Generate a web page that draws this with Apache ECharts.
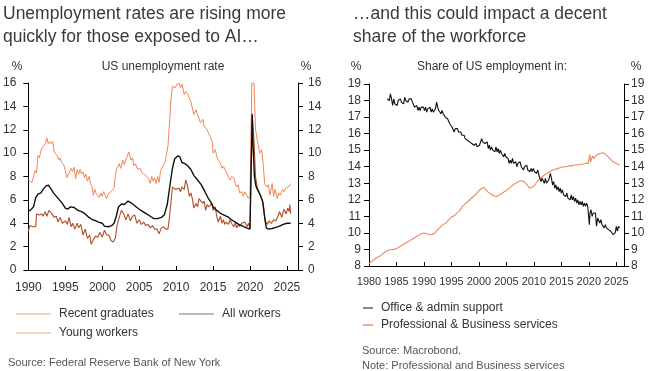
<!DOCTYPE html>
<html><head><meta charset="utf-8">
<script src="https://cdn.jsdelivr.net/npm/echarts@6/dist/echarts.min.js"></script>
<style>html,body{margin:0;padding:0;background:#fff}#c{width:648px;height:371px}</style>
</head><body><div id="c"></div>
<script>
// ---- Left chart: US unemployment rate (%), [year, value]
const allWorkers = [[1990.0,5.0],[1990.4,5.2],[1990.7,5.4],[1991.0,6.2],[1991.3,6.5],[1991.7,6.6],[1992.0,6.9],[1992.4,7.2],[1992.7,7.25],[1993.0,7.0],[1993.4,6.6],[1993.8,6.3],[1994.2,6.0],[1994.6,5.7],[1995.0,5.3],[1995.3,5.2],[1995.7,5.4],[1996.2,5.35],[1996.7,5.1],[1997.2,5.0],[1997.7,4.8],[1998.2,4.5],[1998.7,4.3],[1999.0,4.25],[1999.5,4.1],[2000.0,4.0],[2000.3,3.75],[2000.8,3.7],[2001.3,3.8],[2001.6,4.0],[2001.9,4.6],[2002.2,5.4],[2002.6,5.65],[2003.0,5.6],[2003.5,5.9],[2003.9,5.75],[2004.4,5.5],[2005.0,5.2],[2005.5,5.0],[2006.0,4.8],[2006.5,4.6],[2007.0,4.4],[2007.5,4.4],[2008.0,4.5],[2008.4,4.7],[2008.8,5.6],[2009.2,7.4],[2009.5,8.7],[2009.8,9.5],[2010.2,9.75],[2010.5,9.7],[2010.8,9.2],[2011.2,9.1],[2011.6,8.9],[2012.0,8.6],[2012.4,8.1],[2012.9,7.7],[2013.4,7.3],[2013.9,6.7],[2014.3,6.2],[2014.7,5.8],[2015.0,5.4],[2015.5,5.1],[2016.0,4.85],[2016.5,4.7],[2017.0,4.55],[2017.5,4.3],[2018.0,4.1],[2018.5,3.9],[2019.0,3.75],[2019.5,3.6],[2020.0,3.5],[2020.2,3.6],[2020.3,13.3],[2020.4,11.0],[2020.6,8.0],[2020.8,7.2],[2021.0,6.9],[2021.4,6.4],[2021.7,5.9],[2022.0,4.5],[2022.2,3.6],[2022.5,3.5],[2023.0,3.55],[2023.5,3.65],[2024.0,3.75],[2024.5,3.9],[2025.0,4.0],[2025.5,4.0]];

const youngWorkers = [[1990.0,7.7],[1990.2,7.6],[1990.5,7.5],[1990.7,8.0],[1990.9,8.5],[1991.1,8.3],[1991.3,9.8],[1991.5,9.6],[1991.7,10.2],[1991.9,10.5],[1992.1,10.4],[1992.3,10.8],[1992.5,11.3],[1992.7,10.8],[1992.9,11.0],[1993.1,10.8],[1993.3,11.0],[1993.5,10.1],[1993.7,10.2],[1993.9,9.8],[1994.1,9.4],[1994.3,9.6],[1994.5,9.2],[1994.8,9.0],[1995.0,8.5],[1995.2,7.9],[1995.5,8.3],[1995.8,8.7],[1996.0,8.4],[1996.2,8.8],[1996.4,7.8],[1996.6,8.6],[1996.8,8.2],[1997.0,8.6],[1997.2,8.2],[1997.4,8.4],[1997.6,7.9],[1997.8,8.2],[1998.0,7.6],[1998.2,8.0],[1998.4,7.4],[1998.6,7.2],[1998.8,6.4],[1999.0,6.9],[1999.2,6.5],[1999.4,6.6],[1999.6,6.2],[1999.8,6.6],[2000.0,6.3],[2000.2,6.7],[2000.4,6.4],[2000.6,6.1],[2000.8,6.5],[2001.0,6.4],[2001.2,6.7],[2001.4,6.6],[2001.6,7.0],[2001.8,8.2],[2002.0,8.7],[2002.3,9.1],[2002.5,8.7],[2002.8,9.4],[2003.0,9.0],[2003.3,9.6],[2003.6,10.1],[2003.9,9.4],[2004.1,9.6],[2004.3,8.9],[2004.5,9.1],[2004.8,8.6],[2005.1,8.7],[2005.4,8.3],[2005.6,8.4],[2005.9,8.1],[2006.1,8.2],[2006.3,7.8],[2006.5,7.4],[2006.7,8.0],[2006.9,7.6],[2007.1,7.9],[2007.3,7.4],[2007.5,8.0],[2007.7,7.5],[2007.9,8.5],[2008.1,8.5],[2008.3,9.0],[2008.5,9.2],[2008.7,9.3],[2008.9,10.6],[2009.1,12.5],[2009.3,14.5],[2009.5,15.7],[2009.7,15.8],[2009.9,15.6],[2010.1,15.9],[2010.4,16.0],[2010.6,15.6],[2010.8,15.9],[2011.1,15.0],[2011.3,15.3],[2011.6,15.0],[2011.8,15.1],[2012.0,14.4],[2012.4,13.3],[2012.7,13.7],[2012.9,13.3],[2013.1,13.4],[2013.3,12.6],[2013.6,12.9],[2013.8,12.3],[2014.0,12.4],[2014.2,12.0],[2014.4,11.7],[2014.6,11.4],[2014.9,11.0],[2015.0,10.0],[2015.3,10.3],[2015.5,9.7],[2015.7,9.4],[2016.0,9.1],[2016.2,8.7],[2016.4,8.9],[2016.6,8.6],[2016.8,8.4],[2017.1,7.9],[2017.3,7.7],[2017.5,8.0],[2017.8,7.9],[2018.0,7.4],[2018.2,7.1],[2018.4,7.3],[2018.6,6.6],[2018.9,6.7],[2019.1,6.3],[2019.3,6.7],[2019.5,6.6],[2019.8,6.1],[2020.0,6.4],[2020.15,6.5],[2020.25,16.0],[2020.55,16.0],[2020.75,12.0],[2021.0,11.1],[2021.3,10.0],[2021.6,10.3],[2021.8,8.9],[2022.0,7.4],[2022.3,7.1],[2022.5,7.3],[2022.7,6.4],[2023.0,7.4],[2023.2,6.3],[2023.4,6.9],[2023.7,6.1],[2023.9,6.6],[2024.1,6.4],[2024.4,6.9],[2024.6,6.7],[2024.8,7.0],[2025.0,7.1],[2025.2,7.1],[2025.5,7.4]];

const recentGraduates = [[1990.0,3.3],[1990.2,3.8],[1990.6,3.7],[1991.0,3.7],[1991.1,4.8],[1991.5,4.7],[1991.8,4.8],[1992.0,4.6],[1992.3,5.0],[1992.5,4.6],[1992.8,5.1],[1993.2,4.8],[1993.5,4.5],[1993.8,4.6],[1994.0,4.1],[1994.3,4.5],[1994.6,4.0],[1995.0,4.2],[1995.3,3.9],[1995.5,4.5],[1995.8,3.7],[1996.0,4.0],[1996.3,3.5],[1996.6,4.0],[1996.8,3.6],[1997.1,3.9],[1997.4,3.0],[1997.7,3.5],[1998.0,2.7],[1998.3,3.0],[1998.5,2.2],[1998.8,2.6],[1999.1,2.9],[1999.4,2.8],[1999.7,3.2],[2000.0,2.8],[2000.3,3.4],[2000.6,3.0],[2000.9,3.0],[2001.2,2.5],[2001.5,2.4],[2001.8,2.8],[2002.0,3.8],[2002.3,4.5],[2002.6,5.1],[2002.9,4.8],[2003.2,4.3],[2003.5,4.8],[2003.8,4.2],[2004.1,4.6],[2004.4,4.7],[2004.7,4.0],[2005.0,4.3],[2005.3,3.9],[2005.6,4.1],[2005.9,3.8],[2006.2,3.9],[2006.5,3.6],[2006.8,3.8],[2007.1,3.5],[2007.4,3.5],[2007.7,3.1],[2008.0,3.6],[2008.3,3.7],[2008.6,3.5],[2008.9,3.5],[2009.1,4.5],[2009.3,5.8],[2009.5,7.1],[2009.9,6.9],[2010.4,7.0],[2010.6,6.7],[2010.8,7.1],[2011.1,6.9],[2011.3,7.7],[2011.5,7.3],[2011.8,6.3],[2012.0,6.6],[2012.2,6.1],[2012.4,5.3],[2012.7,5.7],[2012.9,5.4],[2013.1,6.1],[2013.3,6.0],[2013.6,5.7],[2013.8,5.9],[2014.0,5.1],[2014.2,5.6],[2014.4,5.4],[2014.6,5.3],[2014.9,5.7],[2015.0,5.1],[2015.3,5.4],[2015.5,4.6],[2015.7,4.1],[2016.0,4.6],[2016.2,4.0],[2016.4,4.3],[2016.6,3.9],[2016.8,4.1],[2017.1,3.9],[2017.3,4.3],[2017.5,4.0],[2017.8,3.7],[2018.0,4.0],[2018.2,3.6],[2018.4,3.9],[2018.6,3.7],[2018.9,4.0],[2019.1,3.9],[2019.3,4.1],[2019.6,3.7],[2019.8,4.0],[2020.0,3.6],[2020.15,3.7],[2020.3,13.4],[2020.55,11.0],[2020.75,8.0],[2021.0,7.0],[2021.3,6.6],[2021.5,6.2],[2021.8,5.7],[2022.0,4.3],[2022.3,3.9],[2022.6,4.2],[2022.9,4.0],[2023.2,4.3],[2023.5,4.2],[2023.8,4.6],[2024.0,5.0],[2024.3,4.5],[2024.6,5.2],[2024.9,4.8],[2025.1,5.3],[2025.3,5.0],[2025.4,5.6],[2025.5,4.8]];

// ---- Right chart: share of US employment (%), [year, value]
const officeAdmin = [[1983.3,18.1],[1983.5,18.2],[1983.7,18.0],[1983.9,18.4],[1984.1,18.1],[1984.3,17.7],[1984.5,18.1],[1984.7,17.8],[1984.9,17.9],[1985.1,17.7],[1985.3,18.0],[1985.5,17.9],[1985.7,18.1],[1985.9,17.9],[1986.1,18.0],[1986.3,17.8],[1986.5,18.2],[1986.7,18.0],[1986.9,18.1],[1987.1,17.9],[1987.3,18.1],[1987.5,18.0],[1987.7,18.1],[1987.9,17.9],[1988.1,18.0],[1988.3,17.6],[1988.5,17.5],[1988.7,17.7],[1988.9,17.4],[1989.1,17.6],[1989.3,17.4],[1989.5,17.6],[1989.7,17.5],[1989.9,17.6],[1990.1,17.4],[1990.3,17.6],[1990.5,17.3],[1990.7,17.5],[1990.9,17.4],[1991.1,17.6],[1991.3,17.3],[1991.5,17.5],[1991.7,17.3],[1991.9,17.4],[1992.1,17.5],[1992.3,17.9],[1992.5,17.6],[1992.7,17.4],[1992.9,17.5],[1993.1,17.2],[1993.3,17.4],[1993.5,17.2],[1993.7,17.3],[1993.9,17.0],[1994.1,17.1],[1994.3,16.9],[1994.5,16.8],[1994.7,16.6],[1994.9,16.7],[1995.1,16.4],[1995.3,16.5],[1995.5,16.1],[1995.7,16.3],[1995.9,16.2],[1996.1,16.3],[1996.3,16.1],[1996.5,16.0],[1996.7,16.1],[1996.9,15.9],[1997.1,15.8],[1997.3,15.9],[1997.5,15.7],[1997.7,15.8],[1997.9,15.6],[1998.1,15.7],[1998.3,15.5],[1998.5,15.6],[1998.7,15.4],[1998.9,15.5],[1999.1,15.3],[1999.3,15.2],[1999.5,15.4],[1999.7,15.2],[1999.9,15.1],[2000.1,15.3],[2000.3,15.5],[2000.5,15.7],[2000.7,15.5],[2000.9,15.6],[2001.1,15.4],[2001.3,15.3],[2001.5,15.5],[2001.7,15.1],[2001.9,15.3],[2002.1,15.0],[2002.3,15.2],[2002.5,15.0],[2002.7,15.1],[2002.9,14.9],[2003.1,15.2],[2003.3,14.9],[2003.5,15.1],[2003.7,14.8],[2003.9,15.0],[2004.1,14.8],[2004.3,14.9],[2004.5,14.6],[2004.7,14.8],[2004.9,14.6],[2005.1,14.7],[2005.3,14.5],[2005.5,14.2],[2005.7,14.4],[2005.9,14.2],[2006.1,14.5],[2006.3,14.2],[2006.5,14.1],[2006.7,14.3],[2006.9,14.0],[2007.1,14.2],[2007.3,14.1],[2007.5,14.3],[2007.7,14.0],[2007.9,14.1],[2008.1,13.8],[2008.3,14.0],[2008.5,13.9],[2008.7,14.1],[2008.9,13.8],[2009.1,13.9],[2009.3,13.7],[2009.5,13.9],[2009.7,13.7],[2009.9,13.9],[2010.1,13.7],[2010.3,13.8],[2010.5,13.6],[2010.7,13.8],[2010.9,13.5],[2011.1,13.4],[2011.3,13.1],[2011.5,13.3],[2011.7,13.2],[2011.9,13.0],[2012.1,13.3],[2012.3,13.0],[2012.5,12.9],[2012.7,13.2],[2012.9,13.1],[2013.0,13.6],[2013.2,13.3],[2013.4,12.9],[2013.6,13.1],[2013.8,12.7],[2014.0,12.9],[2014.2,12.6],[2014.4,12.8],[2014.6,12.5],[2014.8,12.7],[2015.0,12.4],[2015.2,12.6],[2015.4,12.3],[2015.6,12.4],[2015.8,12.2],[2016.0,12.4],[2016.2,12.1],[2016.4,12.2],[2016.6,12.0],[2016.8,12.3],[2017.0,12.0],[2017.2,12.2],[2017.4,11.9],[2017.6,12.1],[2017.8,11.8],[2018.0,12.0],[2018.2,11.7],[2018.4,11.9],[2018.6,11.7],[2018.8,11.9],[2019.0,11.6],[2019.2,11.8],[2019.4,11.6],[2019.6,11.8],[2019.8,11.6],[2020.0,11.7],[2020.1,10.5],[2020.2,11.2],[2020.4,11.4],[2020.6,11.0],[2020.8,11.2],[2021.0,11.1],[2021.2,11.2],[2021.4,10.4],[2021.6,10.9],[2021.8,11.0],[2022.0,10.6],[2022.2,10.8],[2022.4,10.5],[2022.6,10.6],[2022.8,10.3],[2023.0,10.5],[2023.2,10.3],[2023.4,10.4],[2023.6,10.2],[2023.8,10.3],[2024.0,10.1],[2024.2,10.0],[2024.4,9.9],[2024.6,9.8],[2024.8,10.0],[2025.0,10.4],[2025.2,10.1],[2025.4,10.4],[2025.6,10.3]];

const profBusiness = [[1980.0,8.15],[1980.4,8.25],[1980.8,8.35],[1981.2,8.45],[1981.6,8.55],[1982.0,8.6],[1982.5,8.75],[1983.0,8.85],[1983.5,8.95],[1984.0,9.0],[1984.5,9.0],[1985.0,9.05],[1985.5,9.15],[1986.0,9.25],[1986.5,9.35],[1987.0,9.45],[1987.5,9.55],[1988.0,9.65],[1988.5,9.75],[1989.0,9.85],[1989.5,9.95],[1990.0,10.0],[1990.5,9.95],[1991.0,9.9],[1991.5,9.9],[1992.0,10.0],[1992.5,10.2],[1993.0,10.35],[1993.5,10.5],[1994.0,10.6],[1994.5,10.8],[1995.0,10.95],[1995.5,11.05],[1996.0,11.2],[1996.5,11.35],[1997.0,11.6],[1997.5,11.75],[1998.0,11.9],[1998.5,12.05],[1999.0,12.2],[1999.5,12.35],[2000.0,12.55],[2000.5,12.7],[2000.9,12.75],[2001.3,12.6],[2001.7,12.45],[2002.2,12.35],[2002.7,12.25],[2003.2,12.2],[2003.7,12.3],[2004.2,12.4],[2004.7,12.5],[2005.2,12.6],[2005.7,12.75],[2006.2,12.9],[2006.7,13.0],[2007.2,13.1],[2007.7,13.15],[2008.2,13.1],[2008.7,12.95],[2009.2,12.7],[2009.5,12.65],[2009.9,12.8],[2010.4,13.0],[2010.9,13.2],[2011.4,13.35],[2011.9,13.5],[2012.4,13.6],[2012.9,13.7],[2013.4,13.8],[2013.9,13.85],[2014.4,13.9],[2014.9,13.95],[2015.4,14.0],[2015.9,14.0],[2016.4,14.05],[2016.9,14.05],[2017.4,14.1],[2017.9,14.1],[2018.4,14.15],[2018.9,14.15],[2019.4,14.2],[2019.9,14.2],[2020.1,14.2],[2020.2,14.75],[2020.3,14.3],[2020.5,14.4],[2020.7,14.65],[2020.9,14.5],[2021.1,14.6],[2021.4,14.7],[2021.7,14.75],[2022.0,14.8],[2022.3,14.85],[2022.6,14.85],[2022.9,14.8],[2023.2,14.7],[2023.5,14.6],[2023.8,14.5],[2024.1,14.4],[2024.4,14.3],[2024.7,14.25],[2025.0,14.2],[2025.3,14.15],[2025.6,14.1]];

// ---- Text
const leftTitle = 'Unemployment rates are rising more\nquickly for those exposed to AI…';
const rightTitle = '…and this could impact a decent\nshare of the workforce';
const leftSubtitle = 'US unemployment rate';
const rightSubtitle = 'Share of US employment in:';
const leftLegend = ['Recent graduates', 'All workers', 'Young workers'];
const rightLegend = ['Office & admin support', 'Professional & Business services'];
const leftSource = 'Source: Federal Reserve Bank of New York';
const rightSource = 'Source: Macrobond.\nNote: Professional and Business services';

const FONT = '"Liberation Sans", Arial, sans-serif';
const TXT = '#333';
const C_YOUNG = '#f0875a', C_GRAD = '#b24e2a', C_ALL = '#111', C_PB = '#f0875a', C_OFF = '#111';

const chart = echarts.init(document.getElementById('c'), null, {renderer: 'canvas'});

function xAx(grid, min, max, margin, fs) {
  return {
    type: 'value', gridIndex: grid, min: min, max: max, interval: 5,
    axisLine: {show: true, lineStyle: {color: '#000', width: 1}},
    axisTick: {show: true, inside: true, length: 4, lineStyle: {color: '#000'}},
    axisLabel: {color: TXT, fontFamily: FONT, fontSize: fs, margin: margin,
      formatter: v => (Math.abs(v % 5) < 1e-6 ? String(v) : '')},
    splitLine: {show: false}
  };
}
function yAx(grid, pos, min, max, interval, margin) {
  return {
    type: 'value', gridIndex: grid, position: pos, min: min, max: max, interval: interval,
    axisLine: {show: true, lineStyle: {color: '#000', width: 1}},
    axisTick: {show: true, length: 5, lineStyle: {color: '#000'}},
    axisLabel: {color: TXT, fontFamily: FONT, fontSize: 12, margin: margin},
    splitLine: {show: false}
  };
}
function line(name, data, xi, yi, color, w, z) {
  return {name, type: 'line', data, xAxisIndex: xi, yAxisIndex: yi, showSymbol: false,
    symbol: 'none', lineStyle: {color, width: w}, itemStyle: {color}, z: z, clip: true};
}

const gText = (x, y, text, size, opts) => ({
  type: 'text', x, y,
  style: Object.assign({text, fill: TXT, font: size + 'px ' + FONT}, (opts || {}))
});
const gLine = (x1, y1, x2, y2, color, w) => ({type: 'line', shape: {x1, y1, x2, y2}, style: {stroke: color, lineWidth: w || 1}});

chart.setOption({
  animation: false,
  backgroundColor: '#fff',
  grid: [
    {left: 27, right: 350, top: 83, bottom: 101},
    {left: 369, right: 24, top: 84, bottom: 105}
  ],
  xAxis: [xAx(0, 1990, 2026.5, 12, 12), xAx(1, 1980, 2026.4, 10, 11)],
  yAxis: [
    yAx(0, 'left', 0, 16, 2, 12), yAx(0, 'right', 0, 16, 2, 10),
    yAx(1, 'left', 8, 19, 1, 8), yAx(1, 'right', 8, 19, 1, 7)
  ],
  series: [
    line(leftLegend[2], youngWorkers, 0, 0, C_YOUNG, 1, 2),
    line(leftLegend[0], recentGraduates, 0, 0, C_GRAD, 1.1, 3),
    line(leftLegend[1], allWorkers, 0, 0, C_ALL, 1.4, 4),
    line(rightLegend[1], profBusiness, 1, 2, C_PB, 1.1, 2),
    line(rightLegend[0], officeAdmin, 1, 2, C_OFF, 1.1, 3)
  ],
  graphic: [
    gText(3, 3, leftTitle, 17.5, {lineHeight: 23, fill: '#3a3a3a'}),
    gText(353, 3, rightTitle, 17.5, {lineHeight: 23, fill: '#3a3a3a'}),
    gText(17, 67, '%', 12, {align: 'center', verticalAlign: 'middle'}),
    gText(306, 67, '%', 12, {align: 'center', verticalAlign: 'middle'}),
    gText(163, 67, leftSubtitle, 12, {align: 'center', verticalAlign: 'middle'}),
    gText(356, 67, '%', 12, {align: 'center', verticalAlign: 'middle'}),
    gText(636, 67, '%', 12, {align: 'center', verticalAlign: 'middle'}),
    gText(492, 67, rightSubtitle, 12, {align: 'center', verticalAlign: 'middle'}),
    // left legend
    gLine(16, 314, 51, 314, '#e9a286', 1),
    gText(59, 314, leftLegend[0], 12, {verticalAlign: 'middle'}),
    gLine(179, 314, 214, 314, '#777', 1),
    gText(222, 314, leftLegend[1], 12, {verticalAlign: 'middle'}),
    gLine(16, 333, 51, 333, '#f2a888', 1),
    gText(59, 333, leftLegend[2], 12, {verticalAlign: 'middle'}),
    gText(8, 363, leftSource, 11, {verticalAlign: 'middle', fill: '#555'}),
    // right legend
    gLine(363, 308, 373, 308, '#888', 2),
    gText(381, 308, rightLegend[0], 12, {verticalAlign: 'middle'}),
    gLine(363, 325, 373, 325, '#f5a98a', 2),
    gText(381, 325, rightLegend[1], 12, {verticalAlign: 'middle'}),
    gText(362, 343, rightSource, 11, {lineHeight: 15, fill: '#555'})
  ]
});
</script></body></html>
